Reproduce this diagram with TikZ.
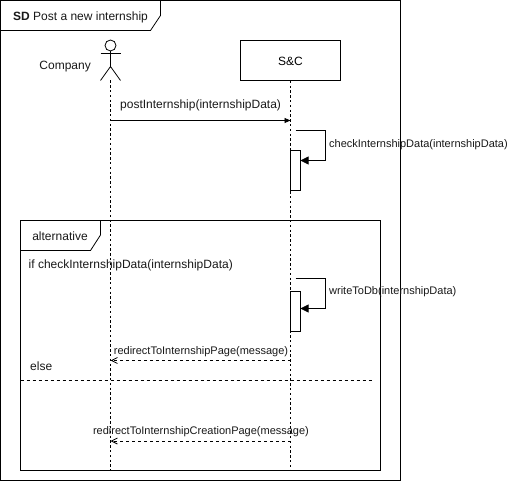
\documentclass[tikz,border=0pt]{standalone}
\usepackage{fontspec}
\setmainfont{Liberation Sans}
\usetikzlibrary{arrows.meta}
\tikzset{
  line/.style={draw=black,line width=0.8pt},
  life/.style={line,dash pattern=on 2.4pt off 2.4pt},
  lbl/.style={inner sep=0pt,font=\fontsize{12}{14}\selectfont,text=black!90},
  small/.style={inner sep=0pt,font=\fontsize{11}{13}\selectfont,text=black!90},
  solidtip/.style={-{Triangle[length=8pt,width=8pt]}},
  smalltip/.style={-{Triangle[length=6pt,width=5pt]}},
  opentip/.style={-{Straight Barb[length=6pt,width=6pt]},dash pattern=on 3pt off 3pt}
}
\begin{document}
\begin{tikzpicture}[x=1pt,y=-1pt]
\useasboundingbox (0,0) rectangle (509,481);
\fill[white] (0,0) rectangle (509,481);
% outer frame
\draw[line] (0.5,0.5) rectangle (400.5,480.5);
\draw[line] (0.5,30.5) -- (150.5,30.5) -- (160.5,15.5) -- (160.5,0.5);
\node[lbl,anchor=west] (sd) at (13,17) {\textbf{SD} Post a new internship};
% lifeline heads
\node[draw=black,line width=0.8pt,fill=white,minimum width=100pt,minimum height=40pt,inner sep=0pt] (sc) at (290.5,60.5) {};
\node[lbl,text=black,anchor=center] (sclabel) at (290.5,61.5) {S\&C};
\coordinate (head) at (110.5,45.5);
\draw[line] (head) circle (5.5pt);
\coordinate (neck) at (110.5,51);
\coordinate (hip) at (110.5,66.5);
\coordinate (foot) at (110.5,80.5);
\draw[line] (neck) -- (hip) -- (100.5,80.5) (hip) -- (120.5,80.5);
\draw[line] (100.5,53.5) -- (120.5,53.5);
\node[lbl,anchor=east] (company) at (91,67) {Company};
% lifelines
\coordinate (cEnd) at (110.5,470);
\coordinate (sEnd) at (290.5,470);
\draw[life] (foot) -- (cEnd);
\draw[life] (sc.south) -- (sEnd);
% post message
\coordinate (c1) at (110.5,120.5);
\coordinate (s1) at (290.5,120.5);
\draw[line,smalltip] (c1) -- (s1);
\node[lbl,anchor=west] (m1) at (120,105) {postInternship(internshipData)};
% first activation
\node[draw=black,line width=0.8pt,fill=white,minimum width=10pt,minimum height=40pt,inner sep=0pt] (a1) at (295.5,170.5) {};
\coordinate (l1s) at (295.5,130.5);
\coordinate (l1e) at (300.5,160.5);
\draw[line,solidtip] (l1s) -- (325.5,130.5) -- (325.5,160.5) -- (l1e);
\node[small,anchor=west] (m2) at (329,144.5) {checkInternshipData(internshipData)};
% alternative frame
\draw[line] (20.5,220.5) rectangle (380.5,470.5);
\draw[line] (20.5,250.5) -- (90.5,250.5) -- (100.5,235) -- (100.5,220.5);
\node[lbl,anchor=center] (alt) at (60,236.5) {alternative};
\node[lbl,anchor=west] (ifl) at (28.5,265) {if checkInternshipData(internshipData)};
% second activation
\node[draw=black,line width=0.8pt,fill=white,minimum width=10pt,minimum height=40pt,inner sep=0pt] (a2) at (295.5,311.5) {};
\coordinate (l2s) at (295.5,278.5);
\coordinate (l2e) at (300.5,308.5);
\draw[line,solidtip] (l2s) -- (325.5,278.5) -- (325.5,308.5) -- (l2e);
\node[small,anchor=west] (m3) at (329,292) {writeToDb(internshipData)};
% returns
\coordinate (s2) at (290.5,360.5);
\coordinate (c2) at (110.5,360.5);
\draw[line,opentip] (s2) -- (c2);
\node[small,anchor=center] (m4) at (201,352) {redirectToInternshipPage(message)};
\node[lbl,anchor=west] (els) at (30,366.5) {else};
\coordinate (e1) at (20.5,380.5);
\coordinate (e2) at (372,380.5);
\draw[line,dash pattern=on 3pt off 3pt] (e1) -- (e2);
\coordinate (s3) at (290.5,441);
\coordinate (c3) at (110.5,441);
\draw[line,opentip] (s3) -- (c3);
\node[small,anchor=center] (m5) at (201,432) {redirectToInternshipCreationPage(message)};
\end{tikzpicture}
\end{document}
